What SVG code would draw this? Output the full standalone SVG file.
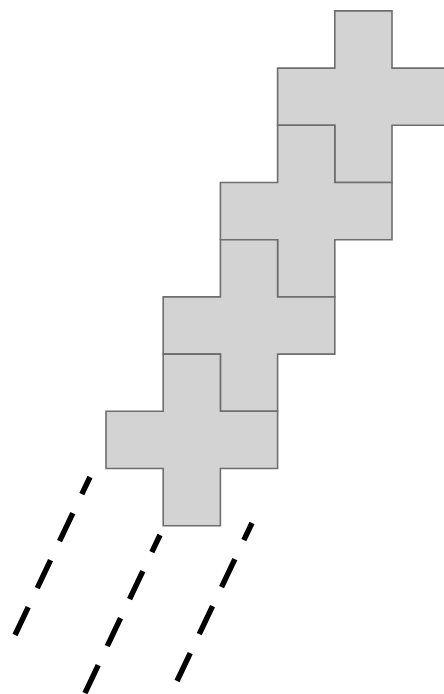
<svg xmlns="http://www.w3.org/2000/svg" width="444" height="694" viewBox="0 0 444 694">
  <style>
    .cross { fill: #d3d3d3; stroke: #6e6e6e; stroke-width: 1.6; stroke-linejoin: miter; }
    .dash { fill: none; stroke: #000000; stroke-width: 5.5; stroke-dasharray: 31 21; stroke-dashoffset: 12; stroke-linecap: butt; }
  </style>
  <defs>
    <path id="xshape" d="M0,-57.2 H57.2 V0 H114.4 V57.2 H57.2 V114.4 H0 V57.2 H-57.2 V0 H0 Z"/>
  </defs>
  <rect width="444" height="694" fill="#ffffff"/>
  <g id="cross1"><use href="#xshape" class="cross" transform="translate(334.8,68.1)"/></g>
  <g id="cross2"><use href="#xshape" class="cross" transform="translate(277.6,182.5)"/></g>
  <g id="cross3"><use href="#xshape" class="cross" transform="translate(220.4,296.9)"/></g>
  <g id="cross4"><use href="#xshape" class="cross" transform="translate(163.2,411.3)"/></g>
  <g id="connectors">
    <line class="dash" x1="90" y1="477" x2="15" y2="635"/>
    <line class="dash" x1="160" y1="535" x2="82.8" y2="697.6"/>
    <line class="dash" x1="252" y1="523" x2="177" y2="681"/>
  </g>
</svg>
